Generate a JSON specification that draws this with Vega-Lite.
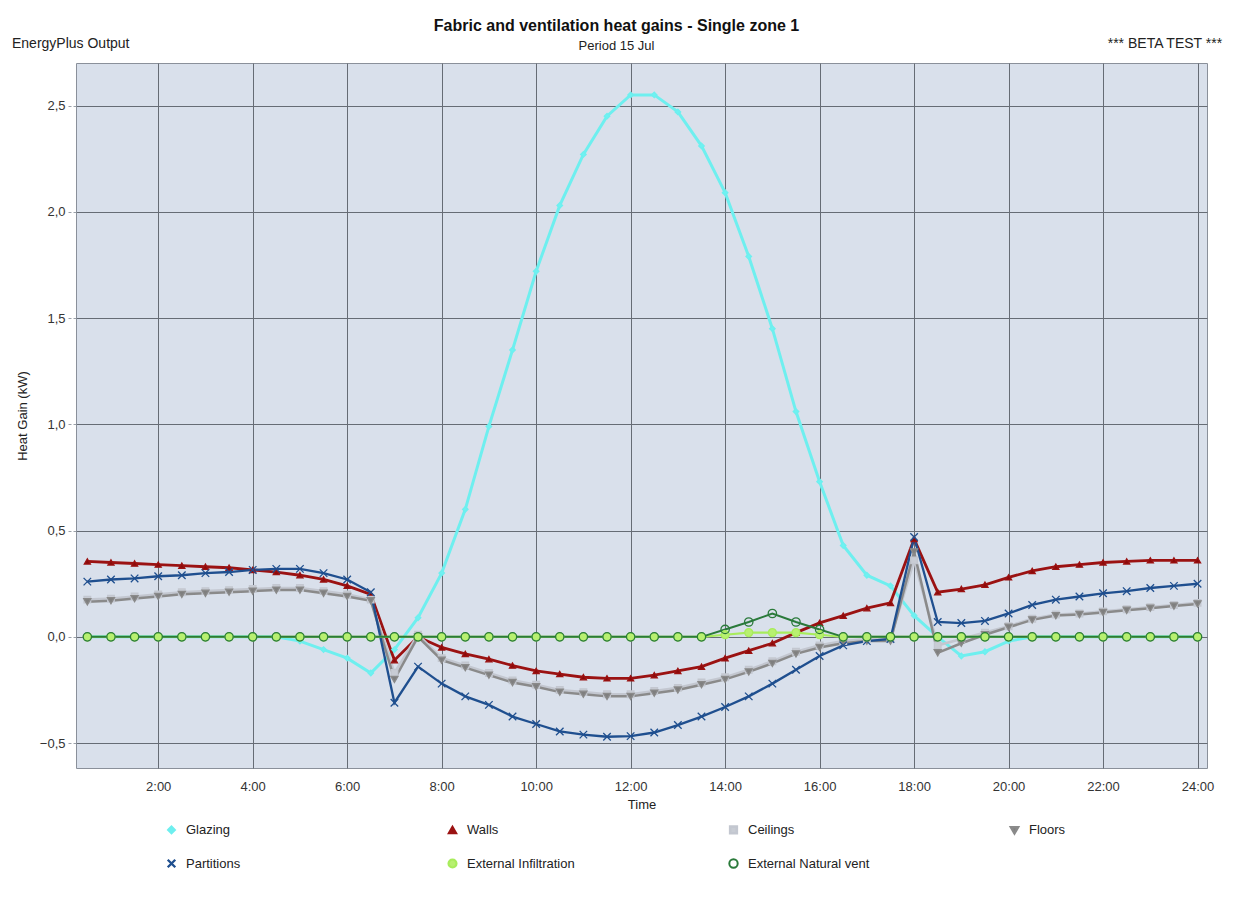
{
  "$schema": "https://vega.github.io/schema/vega-lite/v6.json",
  "width": 1131,
  "height": 705,
  "autosize": "none",
  "padding": {"left": 76, "top": 63, "right": 26, "bottom": 136},
  "background": "white",
  "title": {
    "text": "Fabric and ventilation heat gains - Single zone 1",
    "subtitle": "Period 15 Jul",
    "anchor": "middle",
    "dx": -25,
    "offset": -16,
    "subtitlePadding": 6,
    "font": "Liberation Sans",
    "fontSize": 16,
    "fontWeight": "bold",
    "color": "#111111",
    "subtitleFont": "Liberation Sans",
    "subtitleFontSize": 13,
    "subtitleColor": "#222222"
  },
  "config": {
    "font": "Liberation Sans",
    "view": {"fill": "#d9e0eb", "stroke": "#8a909a", "strokeWidth": 1},
    "axis": {
      "labelFont": "Liberation Sans",
      "titleFont": "Liberation Sans",
      "labelFontSize": 13,
      "titleFontSize": 13,
      "titleFontWeight": "normal",
      "labelColor": "#333333",
      "titleColor": "#222222",
      "gridColor": "#666c75",
      "gridOpacity": 1,
      "gridWidth": 1,
      "domain": false
    },
    "legend": {
      "labelFont": "Liberation Sans",
      "labelFontSize": 13,
      "labelColor": "#222222"
    }
  },
  "datasets": {
    "gains": [
      {"s":"Glazing","t":0.5,"v":0},{"s":"Glazing","t":1,"v":0},{"s":"Glazing","t":1.5,"v":0},{"s":"Glazing","t":2,"v":0},{"s":"Glazing","t":2.5,"v":0},{"s":"Glazing","t":3,"v":0},{"s":"Glazing","t":3.5,"v":0},{"s":"Glazing","t":4,"v":0},{"s":"Glazing","t":4.5,"v":0},{"s":"Glazing","t":5,"v":-0.02},{"s":"Glazing","t":5.5,"v":-0.06},{"s":"Glazing","t":6,"v":-0.1},{"s":"Glazing","t":6.5,"v":-0.17},{"s":"Glazing","t":7,"v":-0.06},{"s":"Glazing","t":7.5,"v":0.09},{"s":"Glazing","t":8,"v":0.3},{"s":"Glazing","t":8.5,"v":0.6},{"s":"Glazing","t":9,"v":0.99},{"s":"Glazing","t":9.5,"v":1.35},{"s":"Glazing","t":10,"v":1.72},{"s":"Glazing","t":10.5,"v":2.03},{"s":"Glazing","t":11,"v":2.27},{"s":"Glazing","t":11.5,"v":2.45},{"s":"Glazing","t":12,"v":2.55},{"s":"Glazing","t":12.5,"v":2.55},{"s":"Glazing","t":13,"v":2.47},{"s":"Glazing","t":13.5,"v":2.31},{"s":"Glazing","t":14,"v":2.09},{"s":"Glazing","t":14.5,"v":1.79},{"s":"Glazing","t":15,"v":1.45},{"s":"Glazing","t":15.5,"v":1.06},{"s":"Glazing","t":16,"v":0.73},{"s":"Glazing","t":16.5,"v":0.43},{"s":"Glazing","t":17,"v":0.29},{"s":"Glazing","t":17.5,"v":0.24},{"s":"Glazing","t":18,"v":0.1},{"s":"Glazing","t":18.5,"v":0.0},{"s":"Glazing","t":19,"v":-0.09},{"s":"Glazing","t":19.5,"v":-0.07},{"s":"Glazing","t":20,"v":-0.02},{"s":"Glazing","t":20.5,"v":0},{"s":"Glazing","t":21,"v":0},{"s":"Glazing","t":21.5,"v":0},{"s":"Glazing","t":22,"v":0},{"s":"Glazing","t":22.5,"v":0},{"s":"Glazing","t":23,"v":0},{"s":"Glazing","t":23.5,"v":0},{"s":"Glazing","t":24,"v":0},

      {"s":"Walls","t":0.5,"v":0.355},{"s":"Walls","t":1,"v":0.35},{"s":"Walls","t":1.5,"v":0.345},{"s":"Walls","t":2,"v":0.34},{"s":"Walls","t":2.5,"v":0.335},{"s":"Walls","t":3,"v":0.33},{"s":"Walls","t":3.5,"v":0.325},{"s":"Walls","t":4,"v":0.315},{"s":"Walls","t":4.5,"v":0.305},{"s":"Walls","t":5,"v":0.29},{"s":"Walls","t":5.5,"v":0.27},{"s":"Walls","t":6,"v":0.24},{"s":"Walls","t":6.5,"v":0.2},{"s":"Walls","t":7,"v":-0.11},{"s":"Walls","t":7.5,"v":0.0},{"s":"Walls","t":8,"v":-0.05},{"s":"Walls","t":8.5,"v":-0.08},{"s":"Walls","t":9,"v":-0.105},{"s":"Walls","t":9.5,"v":-0.135},{"s":"Walls","t":10,"v":-0.16},{"s":"Walls","t":10.5,"v":-0.175},{"s":"Walls","t":11,"v":-0.19},{"s":"Walls","t":11.5,"v":-0.195},{"s":"Walls","t":12,"v":-0.195},{"s":"Walls","t":12.5,"v":-0.18},{"s":"Walls","t":13,"v":-0.16},{"s":"Walls","t":13.5,"v":-0.14},{"s":"Walls","t":14,"v":-0.1},{"s":"Walls","t":14.5,"v":-0.065},{"s":"Walls","t":15,"v":-0.03},{"s":"Walls","t":15.5,"v":0.02},{"s":"Walls","t":16,"v":0.066},{"s":"Walls","t":16.5,"v":0.1},{"s":"Walls","t":17,"v":0.135},{"s":"Walls","t":17.5,"v":0.16},{"s":"Walls","t":18,"v":0.46},{"s":"Walls","t":18.5,"v":0.21},{"s":"Walls","t":19,"v":0.225},{"s":"Walls","t":19.5,"v":0.245},{"s":"Walls","t":20,"v":0.28},{"s":"Walls","t":20.5,"v":0.31},{"s":"Walls","t":21,"v":0.33},{"s":"Walls","t":21.5,"v":0.34},{"s":"Walls","t":22,"v":0.35},{"s":"Walls","t":22.5,"v":0.355},{"s":"Walls","t":23,"v":0.36},{"s":"Walls","t":23.5,"v":0.36},{"s":"Walls","t":24,"v":0.36},

      {"s":"Ceilings","t":0.5,"v":0.175},{"s":"Ceilings","t":1,"v":0.18},{"s":"Ceilings","t":1.5,"v":0.19},{"s":"Ceilings","t":2,"v":0.2},{"s":"Ceilings","t":2.5,"v":0.21},{"s":"Ceilings","t":3,"v":0.215},{"s":"Ceilings","t":3.5,"v":0.22},{"s":"Ceilings","t":4,"v":0.225},{"s":"Ceilings","t":4.5,"v":0.23},{"s":"Ceilings","t":5,"v":0.23},{"s":"Ceilings","t":5.5,"v":0.215},{"s":"Ceilings","t":6,"v":0.2},{"s":"Ceilings","t":6.5,"v":0.175},{"s":"Ceilings","t":7,"v":-0.17},{"s":"Ceilings","t":7.5,"v":0.01},{"s":"Ceilings","t":8,"v":-0.1},{"s":"Ceilings","t":8.5,"v":-0.135},{"s":"Ceilings","t":9,"v":-0.17},{"s":"Ceilings","t":9.5,"v":-0.205},{"s":"Ceilings","t":10,"v":-0.225},{"s":"Ceilings","t":10.5,"v":-0.25},{"s":"Ceilings","t":11,"v":-0.26},{"s":"Ceilings","t":11.5,"v":-0.27},{"s":"Ceilings","t":12,"v":-0.27},{"s":"Ceilings","t":12.5,"v":-0.255},{"s":"Ceilings","t":13,"v":-0.24},{"s":"Ceilings","t":13.5,"v":-0.215},{"s":"Ceilings","t":14,"v":-0.19},{"s":"Ceilings","t":14.5,"v":-0.155},{"s":"Ceilings","t":15,"v":-0.115},{"s":"Ceilings","t":15.5,"v":-0.07},{"s":"Ceilings","t":16,"v":-0.04},{"s":"Ceilings","t":16.5,"v":-0.02},{"s":"Ceilings","t":17,"v":-0.01},{"s":"Ceilings","t":17.5,"v":-0.01},{"s":"Ceilings","t":18,"v":0.36},{"s":"Ceilings","t":18.5,"v":-0.04},{"s":"Ceilings","t":19,"v":-0.01},{"s":"Ceilings","t":19.5,"v":0.02},{"s":"Ceilings","t":20,"v":0.05},{"s":"Ceilings","t":20.5,"v":0.085},{"s":"Ceilings","t":21,"v":0.105},{"s":"Ceilings","t":21.5,"v":0.11},{"s":"Ceilings","t":22,"v":0.12},{"s":"Ceilings","t":22.5,"v":0.13},{"s":"Ceilings","t":23,"v":0.14},{"s":"Ceilings","t":23.5,"v":0.15},{"s":"Ceilings","t":24,"v":0.16},

      {"s":"Floors","t":0.5,"v":0.165},{"s":"Floors","t":1,"v":0.17},{"s":"Floors","t":1.5,"v":0.18},{"s":"Floors","t":2,"v":0.19},{"s":"Floors","t":2.5,"v":0.2},{"s":"Floors","t":3,"v":0.205},{"s":"Floors","t":3.5,"v":0.21},{"s":"Floors","t":4,"v":0.215},{"s":"Floors","t":4.5,"v":0.22},{"s":"Floors","t":5,"v":0.22},{"s":"Floors","t":5.5,"v":0.205},{"s":"Floors","t":6,"v":0.19},{"s":"Floors","t":6.5,"v":0.17},{"s":"Floors","t":7,"v":-0.2},{"s":"Floors","t":7.5,"v":0.0},{"s":"Floors","t":8,"v":-0.11},{"s":"Floors","t":8.5,"v":-0.145},{"s":"Floors","t":9,"v":-0.18},{"s":"Floors","t":9.5,"v":-0.215},{"s":"Floors","t":10,"v":-0.235},{"s":"Floors","t":10.5,"v":-0.26},{"s":"Floors","t":11,"v":-0.27},{"s":"Floors","t":11.5,"v":-0.28},{"s":"Floors","t":12,"v":-0.28},{"s":"Floors","t":12.5,"v":-0.265},{"s":"Floors","t":13,"v":-0.25},{"s":"Floors","t":13.5,"v":-0.225},{"s":"Floors","t":14,"v":-0.2},{"s":"Floors","t":14.5,"v":-0.165},{"s":"Floors","t":15,"v":-0.125},{"s":"Floors","t":15.5,"v":-0.08},{"s":"Floors","t":16,"v":-0.05},{"s":"Floors","t":16.5,"v":-0.03},{"s":"Floors","t":17,"v":-0.02},{"s":"Floors","t":17.5,"v":-0.02},{"s":"Floors","t":18,"v":0.4},{"s":"Floors","t":18.5,"v":-0.075},{"s":"Floors","t":19,"v":-0.03},{"s":"Floors","t":19.5,"v":0.01},{"s":"Floors","t":20,"v":0.045},{"s":"Floors","t":20.5,"v":0.08},{"s":"Floors","t":21,"v":0.1},{"s":"Floors","t":21.5,"v":0.105},{"s":"Floors","t":22,"v":0.115},{"s":"Floors","t":22.5,"v":0.125},{"s":"Floors","t":23,"v":0.135},{"s":"Floors","t":23.5,"v":0.145},{"s":"Floors","t":24,"v":0.155},

      {"s":"Partitions","t":0.5,"v":0.26},{"s":"Partitions","t":1,"v":0.27},{"s":"Partitions","t":1.5,"v":0.275},{"s":"Partitions","t":2,"v":0.285},{"s":"Partitions","t":2.5,"v":0.29},{"s":"Partitions","t":3,"v":0.3},{"s":"Partitions","t":3.5,"v":0.305},{"s":"Partitions","t":4,"v":0.315},{"s":"Partitions","t":4.5,"v":0.32},{"s":"Partitions","t":5,"v":0.32},{"s":"Partitions","t":5.5,"v":0.3},{"s":"Partitions","t":6,"v":0.27},{"s":"Partitions","t":6.5,"v":0.21},{"s":"Partitions","t":7,"v":-0.31},{"s":"Partitions","t":7.5,"v":-0.14},{"s":"Partitions","t":8,"v":-0.22},{"s":"Partitions","t":8.5,"v":-0.28},{"s":"Partitions","t":9,"v":-0.32},{"s":"Partitions","t":9.5,"v":-0.375},{"s":"Partitions","t":10,"v":-0.41},{"s":"Partitions","t":10.5,"v":-0.445},{"s":"Partitions","t":11,"v":-0.46},{"s":"Partitions","t":11.5,"v":-0.47},{"s":"Partitions","t":12,"v":-0.467},{"s":"Partitions","t":12.5,"v":-0.45},{"s":"Partitions","t":13,"v":-0.415},{"s":"Partitions","t":13.5,"v":-0.375},{"s":"Partitions","t":14,"v":-0.33},{"s":"Partitions","t":14.5,"v":-0.28},{"s":"Partitions","t":15,"v":-0.22},{"s":"Partitions","t":15.5,"v":-0.155},{"s":"Partitions","t":16,"v":-0.09},{"s":"Partitions","t":16.5,"v":-0.04},{"s":"Partitions","t":17,"v":-0.02},{"s":"Partitions","t":17.5,"v":-0.01},{"s":"Partitions","t":18,"v":0.47},{"s":"Partitions","t":18.5,"v":0.07},{"s":"Partitions","t":19,"v":0.065},{"s":"Partitions","t":19.5,"v":0.075},{"s":"Partitions","t":20,"v":0.11},{"s":"Partitions","t":20.5,"v":0.15},{"s":"Partitions","t":21,"v":0.175},{"s":"Partitions","t":21.5,"v":0.19},{"s":"Partitions","t":22,"v":0.205},{"s":"Partitions","t":22.5,"v":0.215},{"s":"Partitions","t":23,"v":0.23},{"s":"Partitions","t":23.5,"v":0.24},{"s":"Partitions","t":24,"v":0.25},

      {"s":"External Infiltration","t":0.5,"v":0},{"s":"External Infiltration","t":1,"v":0},{"s":"External Infiltration","t":1.5,"v":0},{"s":"External Infiltration","t":2,"v":0},{"s":"External Infiltration","t":2.5,"v":0},{"s":"External Infiltration","t":3,"v":0},{"s":"External Infiltration","t":3.5,"v":0},{"s":"External Infiltration","t":4,"v":0},{"s":"External Infiltration","t":4.5,"v":0},{"s":"External Infiltration","t":5,"v":0},{"s":"External Infiltration","t":5.5,"v":0},{"s":"External Infiltration","t":6,"v":0},{"s":"External Infiltration","t":6.5,"v":0},{"s":"External Infiltration","t":7,"v":0},{"s":"External Infiltration","t":7.5,"v":0},{"s":"External Infiltration","t":8,"v":0},{"s":"External Infiltration","t":8.5,"v":0},{"s":"External Infiltration","t":9,"v":0},{"s":"External Infiltration","t":9.5,"v":0},{"s":"External Infiltration","t":10,"v":0},{"s":"External Infiltration","t":10.5,"v":0},{"s":"External Infiltration","t":11,"v":0},{"s":"External Infiltration","t":11.5,"v":0},{"s":"External Infiltration","t":12,"v":0},{"s":"External Infiltration","t":12.5,"v":0},{"s":"External Infiltration","t":13,"v":0},{"s":"External Infiltration","t":13.5,"v":0},{"s":"External Infiltration","t":14,"v":0.01},{"s":"External Infiltration","t":14.5,"v":0.02},{"s":"External Infiltration","t":15,"v":0.02},{"s":"External Infiltration","t":15.5,"v":0.02},{"s":"External Infiltration","t":16,"v":0.01},{"s":"External Infiltration","t":16.5,"v":0},{"s":"External Infiltration","t":17,"v":0},{"s":"External Infiltration","t":17.5,"v":0},{"s":"External Infiltration","t":18,"v":0},{"s":"External Infiltration","t":18.5,"v":0},{"s":"External Infiltration","t":19,"v":0},{"s":"External Infiltration","t":19.5,"v":0},{"s":"External Infiltration","t":20,"v":0},{"s":"External Infiltration","t":20.5,"v":0},{"s":"External Infiltration","t":21,"v":0},{"s":"External Infiltration","t":21.5,"v":0},{"s":"External Infiltration","t":22,"v":0},{"s":"External Infiltration","t":22.5,"v":0},{"s":"External Infiltration","t":23,"v":0},{"s":"External Infiltration","t":23.5,"v":0},{"s":"External Infiltration","t":24,"v":0},

      {"s":"External Natural vent","t":0.5,"v":0},{"s":"External Natural vent","t":1,"v":0},{"s":"External Natural vent","t":1.5,"v":0},{"s":"External Natural vent","t":2,"v":0},{"s":"External Natural vent","t":2.5,"v":0},{"s":"External Natural vent","t":3,"v":0},{"s":"External Natural vent","t":3.5,"v":0},{"s":"External Natural vent","t":4,"v":0},{"s":"External Natural vent","t":4.5,"v":0},{"s":"External Natural vent","t":5,"v":0},{"s":"External Natural vent","t":5.5,"v":0},{"s":"External Natural vent","t":6,"v":0},{"s":"External Natural vent","t":6.5,"v":0},{"s":"External Natural vent","t":7,"v":0},{"s":"External Natural vent","t":7.5,"v":0},{"s":"External Natural vent","t":8,"v":0},{"s":"External Natural vent","t":8.5,"v":0},{"s":"External Natural vent","t":9,"v":0},{"s":"External Natural vent","t":9.5,"v":0},{"s":"External Natural vent","t":10,"v":0},{"s":"External Natural vent","t":10.5,"v":0},{"s":"External Natural vent","t":11,"v":0},{"s":"External Natural vent","t":11.5,"v":0},{"s":"External Natural vent","t":12,"v":0},{"s":"External Natural vent","t":12.5,"v":0},{"s":"External Natural vent","t":13,"v":0},{"s":"External Natural vent","t":13.5,"v":0},{"s":"External Natural vent","t":14,"v":0.035},{"s":"External Natural vent","t":14.5,"v":0.07},{"s":"External Natural vent","t":15,"v":0.11},{"s":"External Natural vent","t":15.5,"v":0.07},{"s":"External Natural vent","t":16,"v":0.035},{"s":"External Natural vent","t":16.5,"v":0},{"s":"External Natural vent","t":17,"v":0},{"s":"External Natural vent","t":17.5,"v":0},{"s":"External Natural vent","t":18,"v":0},{"s":"External Natural vent","t":18.5,"v":0},{"s":"External Natural vent","t":19,"v":0},{"s":"External Natural vent","t":19.5,"v":0},{"s":"External Natural vent","t":20,"v":0},{"s":"External Natural vent","t":20.5,"v":0},{"s":"External Natural vent","t":21,"v":0},{"s":"External Natural vent","t":21.5,"v":0},{"s":"External Natural vent","t":22,"v":0},{"s":"External Natural vent","t":22.5,"v":0},{"s":"External Natural vent","t":23,"v":0},{"s":"External Natural vent","t":23.5,"v":0},{"s":"External Natural vent","t":24,"v":0}
    ],
    "notes": [
      {"label": "EnergyPlus Output", "side": "left"},
      {"label": "*** BETA TEST ***", "side": "right"}
    ]
  },
  "layer": [
    {
      "data": {"name": "gains"},
      "mark": {"type": "line", "interpolate": "linear"},
      "encoding": {
        "x": {
          "field": "t", "type": "quantitative",
          "scale": {"domain": [0.26, 24.2], "nice": false, "zero": false},
          "axis": {
            "values": [2, 4, 6, 8, 10, 12, 14, 16, 18, 20, 22, 24],
            "labelExpr": "datum.value + ':00'",
            "title": "Time",
            "grid": true,
            "tickSize": 0,
            "labelPadding": 12,
            "titlePadding": 5,
            "labelFlush": false
          }
        },
        "y": {
          "field": "v", "type": "quantitative",
          "scale": {"domain": [-0.617, 2.7], "nice": false, "zero": false},
          "axis": {
            "values": [-0.5, 0, 0.5, 1, 1.5, 2, 2.5],
            "labelExpr": "replace(format(datum.value, '.1f'), '.', ',')",
            "title": "Heat Gain (kW)",
            "grid": true,
            "tickSize": 8,
            "tickColor": "#9aa0a8",
            "tickDash": [3, 2],
            "labelPadding": 3,
            "titlePadding": 10
          }
        },
        "stroke": {
          "field": "s", "type": "nominal",
          "scale": {
            "domain": ["Glazing", "Walls", "Ceilings", "Floors", "Partitions", "External Infiltration", "External Natural vent"],
            "range": ["#6eefef", "#9b1212", "#c3c7d0", "#8a8a8a", "#1f4f8f", "#a8ec5c", "#2a7a3a"]
          },
          "legend": {
            "title": null,
            "orient": "none",
            "legendX": 89,
            "legendY": 760,
            "direction": "horizontal",
            "columns": 4,
            "gridAlign": "all",
            "columnPadding": 135,
            "rowPadding": 16,
            "symbolSize": 110,
            "symbolStrokeWidth": 1.5,
            "labelOffset": 8
          }
        },
        "strokeWidth": {
          "field": "s", "type": "nominal",
          "scale": {
            "domain": ["Glazing", "Walls", "Ceilings", "Floors", "Partitions", "External Infiltration", "External Natural vent"],
            "range": [3, 2, 3, 2.5, 2, 4, 1.5]
          },
          "legend": null
        },
        "order": {"field": "t", "type": "quantitative"}
      }
    },
    {
      "data": {"name": "gains"},
      "mark": {"type": "point", "strokeWidth": 1.3, "opacity": 1},
      "encoding": {
        "x": {"field": "t", "type": "quantitative"},
        "y": {"field": "v", "type": "quantitative"},
        "stroke": {"field": "s", "type": "nominal"},
        "fill": {
          "field": "s", "type": "nominal",
          "scale": {
            "domain": ["Glazing", "Walls", "Ceilings", "Floors", "Partitions", "External Infiltration", "External Natural vent"],
            "range": ["#6ef2f2", "#8b0a0a", "#c8ccd4", "#7f7f7f", "transparent", "#b8f070", "transparent"]
          }
        },
        "shape": {
          "field": "s", "type": "nominal",
          "scale": {
            "domain": ["Glazing", "Walls", "Ceilings", "Floors", "Partitions", "External Infiltration", "External Natural vent"],
            "range": ["diamond", "triangle-up", "square", "triangle-down", "M-1,-1L1,1M-1,1L1,-1", "circle", "circle"]
          }
        },
        "size": {
          "field": "s", "type": "nominal",
          "scale": {
            "domain": ["Glazing", "Walls", "Ceilings", "Floors", "Partitions", "External Infiltration", "External Natural vent"],
            "range": [30, 70, 30, 60, 40, 0, 50]
          },
          "legend": null
        }
      }
    },
    {
      "data": {"name": "notes"},
      "transform": [{"filter": "datum.side == 'left'"}],
      "mark": {"type": "text", "align": "left", "baseline": "middle", "fontSize": 14, "font": "Liberation Sans", "color": "#222222"},
      "encoding": {
        "x": {"datum": -1.095, "type": "quantitative"},
        "y": {"datum": 2.79, "type": "quantitative"},
        "text": {"field": "label"}
      }
    },
    {
      "data": {"name": "notes"},
      "transform": [{"filter": "datum.side == 'right'"}],
      "mark": {"type": "text", "align": "right", "baseline": "middle", "fontSize": 14, "font": "Liberation Sans", "color": "#222222"},
      "encoding": {
        "x": {"datum": 24.52, "type": "quantitative"},
        "y": {"datum": 2.79, "type": "quantitative"},
        "text": {"field": "label"}
      }
    }
  ]
}
